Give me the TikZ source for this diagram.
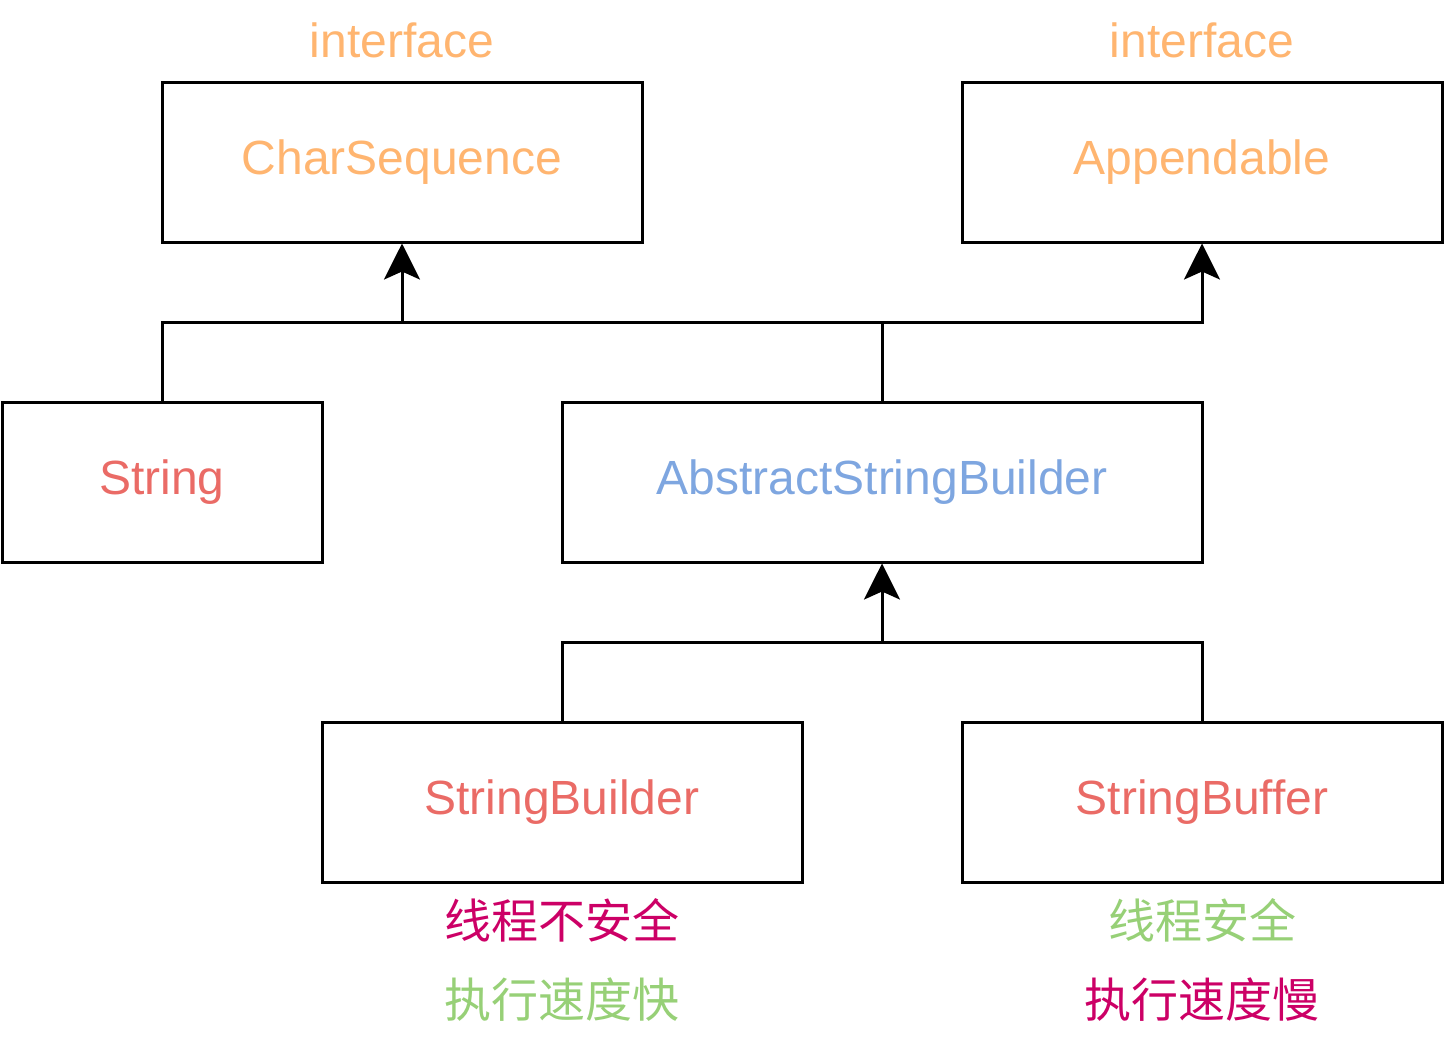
\documentclass[tikz,border=0pt]{standalone}
\usepackage{fontspec}
\setmainfont{Liberation Sans}
\newfontfamily\cjk{Noto Sans CJK SC}
\usetikzlibrary{arrows.meta, positioning}
\definecolor{ifaceorange}{HTML}{FFB570}
\definecolor{classred}{HTML}{EA6B66}
\definecolor{abstractblue}{HTML}{7EA6E0}
\definecolor{notemagenta}{HTML}{CC0066}
\definecolor{notegreen}{HTML}{97D077}
\tikzset{
	cls/.style={rectangle, draw=black, line width=1.5pt, inner sep=0pt, minimum width=240pt, minimum height=80pt, font=\fontsize{24}{28}\selectfont},
	note/.style={font=\fontsize{24}{28}\selectfont},
	cjknote/.style={font=\fontsize{23.5}{28}\selectfont\cjk},
	arrow/.style={line width=1.5pt,-{Stealth[length=18pt,width=18pt,inset=4pt]}},
	link/.style={line width=1.5pt}
}
\begin{document}
\begin{tikzpicture}[x=0.5pt,y=-0.5pt]
			\useasboundingbox (0,0) rectangle (1444,1040);
			% Nodes
			\node (CharSeq) [cls, text=ifaceorange] at (402,162) {CharSequence};
			\node (Append) [cls, text=ifaceorange] at (1202,162) {Appendable};
			\node (Str) [cls, minimum width=160pt, text=classred] at (162,482) {String};
			\node (ASB) [cls, minimum width=320pt, text=abstractblue] at (882,482) {AbstractStringBuilder};
			\node (SBuilder) [cls, text=classred] at (562,802) {StringBuilder};
			\node (SBuffer) [cls, text=classred] at (1202,802) {StringBuffer};
			
			\node (iface1) [note, text=ifaceorange] at (402,40) {interface};
			\node (iface2) [note, text=ifaceorange] at (1202,40) {interface};
			\node (unsafe) [cjknote, text=notemagenta] at (562,920) {线程不安全};
			\node (fast) [cjknote, text=notegreen] at (562,1000) {执行速度快};
			\node (safe) [cjknote, text=notegreen] at (1202,920) {线程安全};
			\node (slow) [cjknote, text=notemagenta] at (1202,1000) {执行速度慢};
			
			\coordinate (bus1) at (402,322);
			\coordinate (bus2) at (1202,322);
			\coordinate (bus3) at (882,642);
			
			% Arrows
			\draw [arrow] (Str.north) |- (bus1) -- (CharSeq.south);
			\draw [link] (ASB.north) |- (bus1);
			\draw [arrow] (ASB.north) |- (bus2) -- (Append.south);
			\draw [arrow] (SBuilder.north) |- (bus3) -- (ASB.south);
			\draw [link] (SBuffer.north) |- (bus3);
		\end{tikzpicture}
\end{document}
